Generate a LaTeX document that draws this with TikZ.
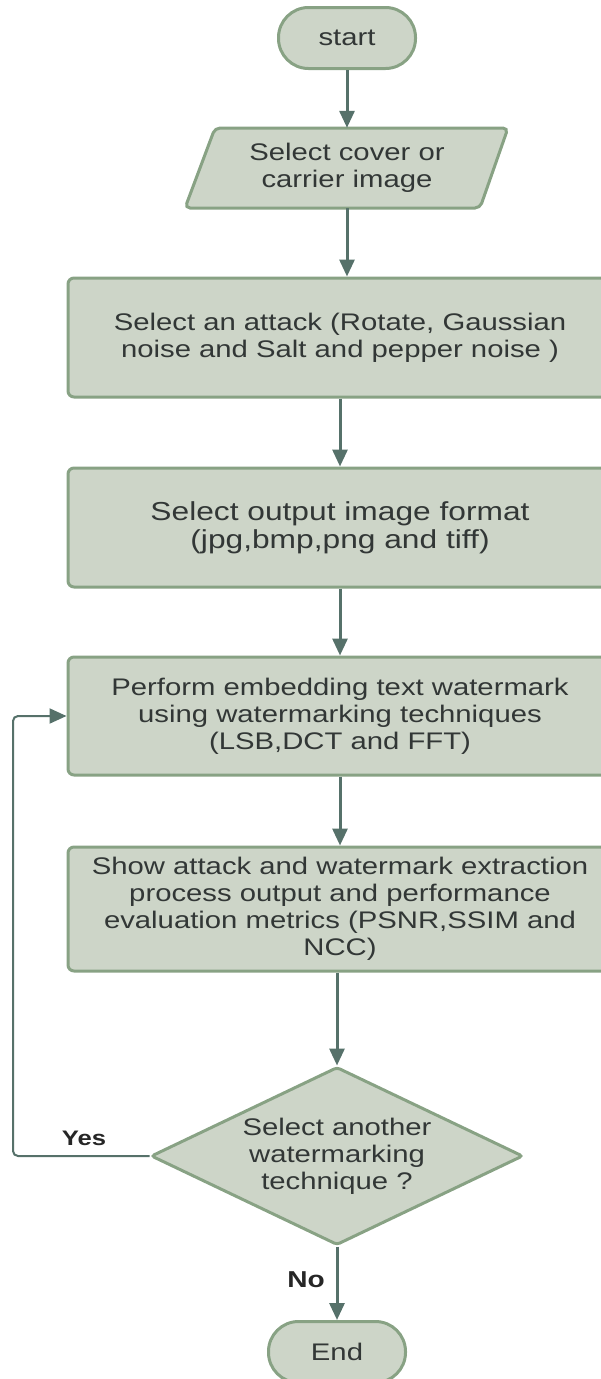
\documentclass[tikz,border=0pt]{standalone}
\usepackage{fontspec}
\setmainfont{Liberation Sans}[FakeStretch=1.22]
\usepackage{tikz}
\usetikzlibrary{shapes.geometric,arrows.meta}
\definecolor{FlowFill}{RGB}{205,213,200}
\definecolor{FlowBorder}{RGB}{136,162,132}
\definecolor{FlowArrow}{RGB}{86,113,106}
\definecolor{FlowText}{RGB}{50,55,54}

\begin{document}
\begin{tikzpicture}[x=1pt, y=-1pt,
    every node/.style={text=FlowText, font=\fontsize{24}{27}\selectfont, align=center, inner sep=2pt},
    procbox/.style={draw=FlowBorder, fill=FlowFill, line width=3pt, rounded corners=6pt, minimum width=544pt},
    termbox/.style={draw=FlowBorder, fill=FlowFill, line width=3pt, rounded corners=30pt, minimum width=137pt, minimum height=61pt},
    decbox/.style={diamond, draw=FlowBorder, fill=FlowFill, line width=3pt, rounded corners=3pt, aspect=2.09, minimum width=372pt, minimum height=178pt, inner sep=0pt},
    flow/.style={draw=FlowArrow, line width=3pt, -{Triangle[width=15pt,length=17pt]}},
    back/.style={draw=FlowArrow, line width=2pt, rounded corners=5pt, -{Triangle[width=15pt,length=17pt]}},
    lbl/.style={font=\fontsize{21}{24}\selectfont\bfseries, text=black!85}]
    \useasboundingbox (0,0) rectangle (601,1379);

    % Start and input
    \node[termbox] (start) at (347,38) {start};
    \draw[draw=FlowBorder, fill=FlowFill, line width=3pt, rounded corners=5pt]
        (215,128) -- (508,128) -- (480,208) -- (185,208) -- cycle;
    \node[minimum width=265pt, minimum height=80pt] (cover) at (347,168) {Select cover or\\carrier image};

    % Processing steps
    \node[procbox, minimum height=119pt] (attack) at (340,337.5) {Select an attack (Rotate, Gaussian\\noise and Salt and pepper noise )};
    \node[procbox, minimum height=119pt, font=\fontsize{26}{28}\selectfont] (format) at (340,527.5) {Select output image format\\(jpg,bmp,png and tiff)};
    \node[procbox, minimum height=118pt] (embed) at (340,716) {Perform embedding text watermark\\using watermarking techniques\\(LSB,DCT and FFT)};
    \node[procbox, minimum height=124pt] (metrics) at (340,909) {Show attack and watermark extraction\\process output and performance\\evaluation metrics (PSNR,SSIM and\\NCC)};

    % Decision and end
    \node[decbox] (again) at (337,1156) {Select another\\watermarking\\technique ?};
    \node[termbox] (finish) at (337,1352) {End};

    % Connectors
    \draw[flow] (start.south) -- (cover.north);
    \draw[flow] (cover.south) -- (cover.south |- attack.north);
    \draw[flow] (attack) -- (format);
    \draw[flow] (format) -- (embed);
    \draw[flow] (embed) -- (metrics);
    \draw[flow] (again.north |- metrics.south) -- (again.north);
    \draw[flow] (again) -- (finish);
    \coordinate (loopx) at (13,1156);
    \draw[back] (again.west) -- (loopx) |- (embed.west);

    \node[lbl] (yes) at (84,1138) {Yes};
    \node[lbl, font=\fontsize{23}{26}\selectfont\bfseries] (no) at (306,1280) {No};
\end{tikzpicture}
\end{document}
